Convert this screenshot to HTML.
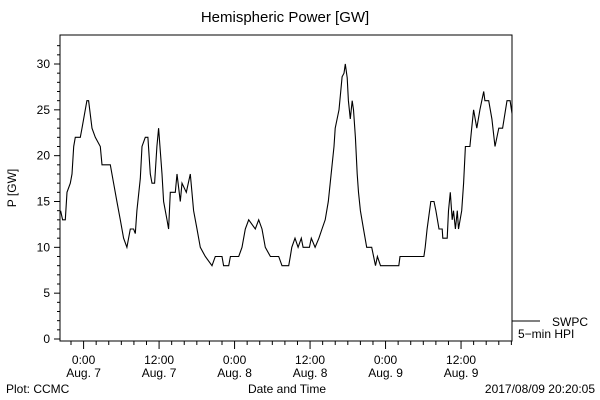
<!DOCTYPE html>
<html><head><meta charset="utf-8"><style>
body{margin:0;background:#fff}
svg{display:block;font-family:"Liberation Sans",sans-serif}
</style></head><body>
<svg id="c" width="600" height="400" viewBox="0 0 600 400">
<rect x="0" y="0" width="600" height="400" fill="#fff"/>
<text x="285" y="22" text-anchor="middle" font-size="15">Hemispheric Power [GW]</text>
<text transform="translate(16,188) rotate(-90)" text-anchor="middle" font-size="12">P [GW]</text>
<text x="287" y="393" text-anchor="middle" font-size="12">Date and Time</text>
<text x="6" y="393" font-size="12">Plot: CCMC</text>
<text x="595" y="393" text-anchor="end" font-size="12">2017/08/09 20:20:05</text>
<g id="axes"></g>
<g id="series"></g>
<line x1="512" y1="321" x2="540" y2="321" stroke="#000"/>
<text x="552" y="326" font-size="12">SWPC</text>
<text x="518" y="338" font-size="12">5−min HPI</text>
</svg>
<script>
const hours=[-3.65,-3.33,-2.9,-2.64,-2.11,-1.85,-1.58,-1.32,-0.52,-0.26,0.53,0.8,1.33,1.86,2.66,2.92,4.24,4.77,5.3,5.83,6.36,6.89,7.42,7.95,8.22,8.48,9.01,9.28,9.81,10.23,10.6,10.87,11.29,11.66,11.93,12.46,12.72,13.26,13.52,13.79,14.58,14.85,15.38,15.64,16.33,16.96,17.49,18.02,18.55,19.35,20.41,20.94,22.0,22.26,23.06,23.33,24.65,25.18,25.71,26.24,27.3,27.83,28.36,28.89,29.69,31.01,31.54,32.6,32.86,33.1,33.6,34.1,34.6,34.9,35.9,36.2,36.8,37.4,37.9,38.4,38.9,39.2,39.5,39.8,40.0,40.6,40.8,41.1,41.4,41.6,41.9,42.1,42.4,42.7,42.9,43.2,43.5,43.7,44.0,44.5,45.0,45.8,46.1,46.4,46.7,47.2,50.1,50.3,54.1,54.3,54.6,55.2,55.7,56.0,56.5,57.0,57.1,57.8,58.0,58.3,58.6,58.8,59.1,59.4,59.6,60.1,60.4,60.7,61.4,61.7,62.0,62.5,63.0,63.6,63.8,64.4,64.9,65.4,65.7,66.0,66.6,67.3,67.8,68.1];
const power=[14,13,13,16,17,18,21,22,22,23,26,26,23,22,21,19,19,17,15,13,11,10,12,12,11.5,14,17.5,21,22,22,18,17,17,21,23,18,15,13,12,16,16,18,15,17,16,18,14,12,10,9,8,9,9,8,8,9,9,10,12,13,12,13,12,10,9,9,8,8,9,10,11,10,11,10,10,11,10,11,12,13,15,17,19,21,23,25,26.5,28.6,29,30,28.5,26,24,26,25,22,18,16,14,12,10,10,9,8,9,8,8,9,9,10,12,15,15,14,12,12,11,11,14,16,13,14,12,14,12,14,17,21,21,23,25,23,25,27,26,26,24,21,22,23,23,26,26,24.6];
const yTicks=[0,5,10,15,20,25,30];
const xTickHours=[0,12,24,36,48,60];
const xTimeLabels=["0:00","12:00","0:00","12:00","0:00","12:00"];
const xDateLabels=["Aug. 7","Aug. 7","Aug. 8","Aug. 8","Aug. 9","Aug. 9"];
const L=60,R=512,T=35,B=341,Y0=339,Y30=64,H0=-3.75,H1=68.1;
const xS=h=>L+(h-H0)/(H1-H0)*(R-L);
const yS=v=>Y0-v*(Y0-Y30)/30;
const NS="http://www.w3.org/2000/svg";
const ax=document.getElementById('axes');
function mk(tag,at,parent){const e=document.createElementNS(NS,tag);for(const k in at)e.setAttribute(k,at[k]);parent.appendChild(e);return e;}
const frame=mk('rect',{x:L,y:T,width:R-L,height:B-T,fill:'none',stroke:'#000'},ax);


for(let v=0;v<=32;v++){
  const maj=v%5===0;
  const t=mk('line',{x1:L-(maj?6:3),x2:L,y1:yS(v),y2:yS(v),stroke:'#000'},ax);
  
  
}
yTicks.forEach(v=>{
  const t=mk('text',{x:L-10,y:yS(v)+4,'text-anchor':'end','font-size':12},ax);
  t.textContent=v;
  
  
});
for(let h=-2;h<=68;h+=2){
  const maj=h%12===0;
  const t=mk('line',{x1:xS(h),x2:xS(h),y1:B,y2:B+(maj?8:4),stroke:'#000'},ax);
  
  
}
xTickHours.forEach((h,i)=>{
  const a=mk('text',{x:xS(h),y:364,'text-anchor':'middle','font-size':12},ax);
  a.textContent=xTimeLabels[i];
  
  
  const b=mk('text',{x:xS(h),y:377,'text-anchor':'middle','font-size':12},ax);
  b.textContent=xDateLabels[i];
  
  
});
const pts=hours.map((h,i)=>xS(h).toFixed(1)+','+yS(power[i]).toFixed(1)).join(' ');
const pl=mk('polyline',{points:pts,fill:'none',stroke:'#000','stroke-width':1.1},document.getElementById('series'));


</script>
</body></html>
